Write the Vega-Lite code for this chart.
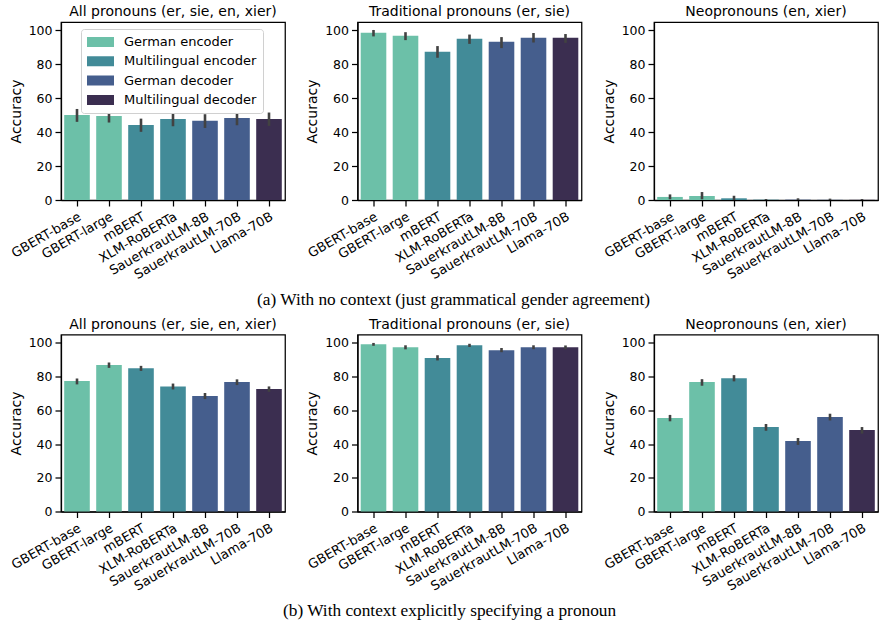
{
  "$schema": "https://vega.github.io/schema/vega-lite/v6.json",
  "padding": {"left": 8, "top": 4, "right": 4, "bottom": 2},
  "background": "white",
  "datasets": {
    "acc": [
      {"ctx": "none", "subset": "all", "model": "GBERT-base", "type": "German encoder", "acc": 50.2, "lo": 46.1, "hi": 53.7},
      {"ctx": "none", "subset": "all", "model": "GBERT-large", "type": "German encoder", "acc": 49.6, "lo": 45.7, "hi": 53.2},
      {"ctx": "none", "subset": "all", "model": "mBERT", "type": "Multilingual encoder", "acc": 44.3, "lo": 40.2, "hi": 48.0},
      {"ctx": "none", "subset": "all", "model": "XLM-RoBERTa", "type": "Multilingual encoder", "acc": 47.8, "lo": 43.5, "hi": 51.6},
      {"ctx": "none", "subset": "all", "model": "SauerkrautLM-8B", "type": "German decoder", "acc": 46.7, "lo": 42.5, "hi": 50.6},
      {"ctx": "none", "subset": "all", "model": "SauerkrautLM-70B", "type": "German decoder", "acc": 48.4, "lo": 44.1, "hi": 52.0},
      {"ctx": "none", "subset": "all", "model": "Llama-70B", "type": "Multilingual decoder", "acc": 47.8, "lo": 43.7, "hi": 51.6},

      {"ctx": "none", "subset": "trad", "model": "GBERT-base", "type": "German encoder", "acc": 98.6, "lo": 96.5, "hi": 100.3},
      {"ctx": "none", "subset": "trad", "model": "GBERT-large", "type": "German encoder", "acc": 96.9, "lo": 94.3, "hi": 99.0},
      {"ctx": "none", "subset": "trad", "model": "mBERT", "type": "Multilingual encoder", "acc": 87.4, "lo": 83.9, "hi": 90.8},
      {"ctx": "none", "subset": "trad", "model": "XLM-RoBERTa", "type": "Multilingual encoder", "acc": 95.1, "lo": 92.1, "hi": 97.6},
      {"ctx": "none", "subset": "trad", "model": "SauerkrautLM-8B", "type": "German decoder", "acc": 93.3, "lo": 89.6, "hi": 96.1},
      {"ctx": "none", "subset": "trad", "model": "SauerkrautLM-70B", "type": "German decoder", "acc": 95.7, "lo": 92.9, "hi": 98.5},
      {"ctx": "none", "subset": "trad", "model": "Llama-70B", "type": "Multilingual decoder", "acc": 95.7, "lo": 92.7, "hi": 97.9},

      {"ctx": "none", "subset": "neo", "model": "GBERT-base", "type": "German encoder", "acc": 1.8, "lo": 0.4, "hi": 3.3},
      {"ctx": "none", "subset": "neo", "model": "GBERT-large", "type": "German encoder", "acc": 2.4, "lo": 0.4, "hi": 4.7},
      {"ctx": "none", "subset": "neo", "model": "mBERT", "type": "Multilingual encoder", "acc": 1.0, "lo": 0.0, "hi": 2.5},
      {"ctx": "none", "subset": "neo", "model": "XLM-RoBERTa", "type": "Multilingual encoder", "acc": 0.2, "lo": 0.0, "hi": 0.6},
      {"ctx": "none", "subset": "neo", "model": "SauerkrautLM-8B", "type": "German decoder", "acc": 0.2, "lo": 0.0, "hi": 1.0},
      {"ctx": "none", "subset": "neo", "model": "SauerkrautLM-70B", "type": "German decoder", "acc": 0.1, "lo": 0.0, "hi": 0.8},
      {"ctx": "none", "subset": "neo", "model": "Llama-70B", "type": "Multilingual decoder", "acc": 0.1, "lo": 0.0, "hi": 0.6},

      {"ctx": "explicit", "subset": "all", "model": "GBERT-base", "type": "German encoder", "acc": 77.4, "lo": 75.4, "hi": 78.9},
      {"ctx": "explicit", "subset": "all", "model": "GBERT-large", "type": "German encoder", "acc": 86.9, "lo": 85.2, "hi": 88.4},
      {"ctx": "explicit", "subset": "all", "model": "mBERT", "type": "Multilingual encoder", "acc": 85.0, "lo": 83.4, "hi": 86.4},
      {"ctx": "explicit", "subset": "all", "model": "XLM-RoBERTa", "type": "Multilingual encoder", "acc": 74.2, "lo": 72.4, "hi": 75.9},
      {"ctx": "explicit", "subset": "all", "model": "SauerkrautLM-8B", "type": "German decoder", "acc": 68.5, "lo": 66.7, "hi": 70.3},
      {"ctx": "explicit", "subset": "all", "model": "SauerkrautLM-70B", "type": "German decoder", "acc": 76.8, "lo": 75.0, "hi": 78.4},
      {"ctx": "explicit", "subset": "all", "model": "Llama-70B", "type": "Multilingual decoder", "acc": 72.6, "lo": 71.0, "hi": 74.2},

      {"ctx": "explicit", "subset": "trad", "model": "GBERT-base", "type": "German encoder", "acc": 99.2, "lo": 98.3, "hi": 100.0},
      {"ctx": "explicit", "subset": "trad", "model": "GBERT-large", "type": "German encoder", "acc": 97.5, "lo": 96.2, "hi": 98.6},
      {"ctx": "explicit", "subset": "trad", "model": "mBERT", "type": "Multilingual encoder", "acc": 91.0, "lo": 89.6, "hi": 92.7},
      {"ctx": "explicit", "subset": "trad", "model": "XLM-RoBERTa", "type": "Multilingual encoder", "acc": 98.6, "lo": 97.6, "hi": 99.5},
      {"ctx": "explicit", "subset": "trad", "model": "SauerkrautLM-8B", "type": "German decoder", "acc": 95.7, "lo": 94.5, "hi": 97.0},
      {"ctx": "explicit", "subset": "trad", "model": "SauerkrautLM-70B", "type": "German decoder", "acc": 97.5, "lo": 96.3, "hi": 98.6},
      {"ctx": "explicit", "subset": "trad", "model": "Llama-70B", "type": "Multilingual decoder", "acc": 97.5, "lo": 96.3, "hi": 98.5},

      {"ctx": "explicit", "subset": "neo", "model": "GBERT-base", "type": "German encoder", "acc": 55.5, "lo": 53.5, "hi": 57.3},
      {"ctx": "explicit", "subset": "neo", "model": "GBERT-large", "type": "German encoder", "acc": 76.8, "lo": 74.6, "hi": 78.5},
      {"ctx": "explicit", "subset": "neo", "model": "mBERT", "type": "Multilingual encoder", "acc": 79.0, "lo": 77.2, "hi": 80.9},
      {"ctx": "explicit", "subset": "neo", "model": "XLM-RoBERTa", "type": "Multilingual encoder", "acc": 50.2, "lo": 47.9, "hi": 51.9},
      {"ctx": "explicit", "subset": "neo", "model": "SauerkrautLM-8B", "type": "German decoder", "acc": 41.8, "lo": 39.5, "hi": 43.6},
      {"ctx": "explicit", "subset": "neo", "model": "SauerkrautLM-70B", "type": "German decoder", "acc": 56.0, "lo": 54.0, "hi": 58.0},
      {"ctx": "explicit", "subset": "neo", "model": "Llama-70B", "type": "Multilingual decoder", "acc": 48.3, "lo": 46.2, "hi": 50.1}
    ]
  },
  "data": {"name": "acc"},
  "resolve": {"scale": {"color": "independent"}, "legend": {"color": "independent"}},
  "spacing": 7.5,
  "vconcat": [
    {
      "title": {"text": "(a) With no context (just grammatical gender agreement)", "orient": "bottom", "font": "Liberation Serif", "fontSize": 17.3, "fontWeight": "normal", "color": "black", "anchor": "middle", "offset": 9, "dx": 10},
      "resolve": {"scale": {"color": "independent"}, "legend": {"color": "independent"}},
      "spacing": 18.5,
      "hconcat": [
        {
          "width": 224, "height": 178,
          "title": "All pronouns (er, sie, en, xier)",
          "transform": [{"filter": "datum.ctx === 'none' && datum.subset === 'all'"}],
          "encoding": {
            "x": {"field": "model", "type": "nominal", "sort": ["GBERT-base", "GBERT-large", "mBERT", "XLM-RoBERTa", "SauerkrautLM-8B", "SauerkrautLM-70B", "Llama-70B"], "scale": {"paddingInner": 0.2, "paddingOuter": 0.1}, "axis": {"title": null, "labelAngle": -30, "labelAlign": "right", "labelBaseline": "top"}}
          },
          "layer": [
            {"mark": {"type": "bar"},
             "encoding": {
               "y": {"field": "acc", "type": "quantitative", "scale": {"domain": [0, 105], "nice": false}, "axis": {"title": "Accuracy", "values": [0, 20, 40, 60, 80, 100]}},
               "color": {"field": "type", "type": "nominal", "scale": {"domain": ["German encoder", "Multilingual encoder", "German decoder", "Multilingual decoder"], "range": ["#6cc0a8", "#428b98", "#455e8d", "#3b2e50"]},
                 "legend": {"title": null, "orient": "none", "legendX": 20, "legendY": 7, "symbolType": "M-1,-0.37H1V0.37H-1Z", "symbolSize": 729, "symbolStrokeWidth": 0, "symbolOpacity": 1, "labelFontSize": 13, "labelColor": "black", "labelOffset": 10, "fillColor": "white", "strokeColor": "#d0d0d0", "cornerRadius": 3, "padding": 6, "clipHeight": 14, "rowPadding": 5.3}}
             }},
            {"mark": {"type": "rule", "color": "#424242", "strokeWidth": 2.6},
             "encoding": {"y": {"field": "lo", "type": "quantitative", "scale": {"domain": [0, 105], "nice": false}, "axis": {"title": "Accuracy", "values": [0, 20, 40, 60, 80, 100]}}, "y2": {"field": "hi"}}}
          ]
        },
        {
          "width": 224, "height": 178,
          "title": "Traditional pronouns (er, sie)",
          "transform": [{"filter": "datum.ctx === 'none' && datum.subset === 'trad'"}],
          "encoding": {
            "x": {"field": "model", "type": "nominal", "sort": ["GBERT-base", "GBERT-large", "mBERT", "XLM-RoBERTa", "SauerkrautLM-8B", "SauerkrautLM-70B", "Llama-70B"], "scale": {"paddingInner": 0.2, "paddingOuter": 0.1}, "axis": {"title": null, "labelAngle": -30, "labelAlign": "right", "labelBaseline": "top"}}
          },
          "layer": [
            {"mark": {"type": "bar"},
             "encoding": {
               "y": {"field": "acc", "type": "quantitative", "scale": {"domain": [0, 105], "nice": false}, "axis": {"title": "Accuracy", "values": [0, 20, 40, 60, 80, 100]}},
               "color": {"field": "type", "type": "nominal", "scale": {"domain": ["German encoder", "Multilingual encoder", "German decoder", "Multilingual decoder"], "range": ["#6cc0a8", "#428b98", "#455e8d", "#3b2e50"]}, "legend": null}
             }},
            {"mark": {"type": "rule", "color": "#424242", "strokeWidth": 2.6},
             "encoding": {"y": {"field": "lo", "type": "quantitative", "scale": {"domain": [0, 105], "nice": false}, "axis": {"title": "Accuracy", "values": [0, 20, 40, 60, 80, 100]}}, "y2": {"field": "hi"}}}
          ]
        },
        {
          "width": 224, "height": 178,
          "title": "Neopronouns (en, xier)",
          "transform": [{"filter": "datum.ctx === 'none' && datum.subset === 'neo'"}],
          "encoding": {
            "x": {"field": "model", "type": "nominal", "sort": ["GBERT-base", "GBERT-large", "mBERT", "XLM-RoBERTa", "SauerkrautLM-8B", "SauerkrautLM-70B", "Llama-70B"], "scale": {"paddingInner": 0.2, "paddingOuter": 0.1}, "axis": {"title": null, "labelAngle": -30, "labelAlign": "right", "labelBaseline": "top"}}
          },
          "layer": [
            {"mark": {"type": "bar"},
             "encoding": {
               "y": {"field": "acc", "type": "quantitative", "scale": {"domain": [0, 105], "nice": false}, "axis": {"title": "Accuracy", "values": [0, 20, 40, 60, 80, 100]}},
               "color": {"field": "type", "type": "nominal", "scale": {"domain": ["German encoder", "Multilingual encoder", "German decoder", "Multilingual decoder"], "range": ["#6cc0a8", "#428b98", "#455e8d", "#3b2e50"]}, "legend": null}
             }},
            {"mark": {"type": "rule", "color": "#424242", "strokeWidth": 2.6},
             "encoding": {"y": {"field": "lo", "type": "quantitative", "scale": {"domain": [0, 105], "nice": false}, "axis": {"title": "Accuracy", "values": [0, 20, 40, 60, 80, 100]}}, "y2": {"field": "hi"}}}
          ]
        }
      ]
    },
    {
      "title": {"text": "(b) With context explicitly specifying a pronoun", "orient": "bottom", "font": "Liberation Serif", "fontSize": 17.3, "fontWeight": "normal", "color": "black", "anchor": "middle", "offset": 8, "dx": 6},
      "resolve": {"scale": {"color": "independent"}, "legend": {"color": "independent"}},
      "spacing": 18.5,
      "hconcat": [
        {
          "width": 224, "height": 177,
          "title": "All pronouns (er, sie, en, xier)",
          "transform": [{"filter": "datum.ctx === 'explicit' && datum.subset === 'all'"}],
          "encoding": {
            "x": {"field": "model", "type": "nominal", "sort": ["GBERT-base", "GBERT-large", "mBERT", "XLM-RoBERTa", "SauerkrautLM-8B", "SauerkrautLM-70B", "Llama-70B"], "scale": {"paddingInner": 0.2, "paddingOuter": 0.1}, "axis": {"title": null, "labelAngle": -30, "labelAlign": "right", "labelBaseline": "top"}}
          },
          "layer": [
            {"mark": {"type": "bar"},
             "encoding": {
               "y": {"field": "acc", "type": "quantitative", "scale": {"domain": [0, 105], "nice": false}, "axis": {"title": "Accuracy", "values": [0, 20, 40, 60, 80, 100]}},
               "color": {"field": "type", "type": "nominal", "scale": {"domain": ["German encoder", "Multilingual encoder", "German decoder", "Multilingual decoder"], "range": ["#6cc0a8", "#428b98", "#455e8d", "#3b2e50"]}, "legend": null}
             }},
            {"mark": {"type": "rule", "color": "#424242", "strokeWidth": 2.6},
             "encoding": {"y": {"field": "lo", "type": "quantitative", "scale": {"domain": [0, 105], "nice": false}, "axis": {"title": "Accuracy", "values": [0, 20, 40, 60, 80, 100]}}, "y2": {"field": "hi"}}}
          ]
        },
        {
          "width": 224, "height": 177,
          "title": "Traditional pronouns (er, sie)",
          "transform": [{"filter": "datum.ctx === 'explicit' && datum.subset === 'trad'"}],
          "encoding": {
            "x": {"field": "model", "type": "nominal", "sort": ["GBERT-base", "GBERT-large", "mBERT", "XLM-RoBERTa", "SauerkrautLM-8B", "SauerkrautLM-70B", "Llama-70B"], "scale": {"paddingInner": 0.2, "paddingOuter": 0.1}, "axis": {"title": null, "labelAngle": -30, "labelAlign": "right", "labelBaseline": "top"}}
          },
          "layer": [
            {"mark": {"type": "bar"},
             "encoding": {
               "y": {"field": "acc", "type": "quantitative", "scale": {"domain": [0, 105], "nice": false}, "axis": {"title": "Accuracy", "values": [0, 20, 40, 60, 80, 100]}},
               "color": {"field": "type", "type": "nominal", "scale": {"domain": ["German encoder", "Multilingual encoder", "German decoder", "Multilingual decoder"], "range": ["#6cc0a8", "#428b98", "#455e8d", "#3b2e50"]}, "legend": null}
             }},
            {"mark": {"type": "rule", "color": "#424242", "strokeWidth": 2.6},
             "encoding": {"y": {"field": "lo", "type": "quantitative", "scale": {"domain": [0, 105], "nice": false}, "axis": {"title": "Accuracy", "values": [0, 20, 40, 60, 80, 100]}}, "y2": {"field": "hi"}}}
          ]
        },
        {
          "width": 224, "height": 177,
          "title": "Neopronouns (en, xier)",
          "transform": [{"filter": "datum.ctx === 'explicit' && datum.subset === 'neo'"}],
          "encoding": {
            "x": {"field": "model", "type": "nominal", "sort": ["GBERT-base", "GBERT-large", "mBERT", "XLM-RoBERTa", "SauerkrautLM-8B", "SauerkrautLM-70B", "Llama-70B"], "scale": {"paddingInner": 0.2, "paddingOuter": 0.1}, "axis": {"title": null, "labelAngle": -30, "labelAlign": "right", "labelBaseline": "top"}}
          },
          "layer": [
            {"mark": {"type": "bar"},
             "encoding": {
               "y": {"field": "acc", "type": "quantitative", "scale": {"domain": [0, 105], "nice": false}, "axis": {"title": "Accuracy", "values": [0, 20, 40, 60, 80, 100]}},
               "color": {"field": "type", "type": "nominal", "scale": {"domain": ["German encoder", "Multilingual encoder", "German decoder", "Multilingual decoder"], "range": ["#6cc0a8", "#428b98", "#455e8d", "#3b2e50"]}, "legend": null}
             }},
            {"mark": {"type": "rule", "color": "#424242", "strokeWidth": 2.6},
             "encoding": {"y": {"field": "lo", "type": "quantitative", "scale": {"domain": [0, 105], "nice": false}, "axis": {"title": "Accuracy", "values": [0, 20, 40, 60, 80, 100]}}, "y2": {"field": "hi"}}}
          ]
        }
      ]
    }
  ],
  "config": {
    "font": "DejaVu Sans",
    "view": {"stroke": "black", "strokeWidth": 1.25},
    "axis": {"domainColor": "black", "domainWidth": 1.25, "tickColor": "black", "tickWidth": 1.25, "tickSize": 6, "labelColor": "black", "labelFontSize": 12.5, "labelPadding": 3, "titleFontSize": 14, "titleFontWeight": "normal", "titleColor": "black", "titlePadding": 5, "grid": false},
    "axisY": {"labelOverlap": false, "labelFlush": false},
    "axisX": {"labelOverlap": false, "labelFontSize": 13, "labelPadding": 4},
    "title": {"fontSize": 14, "fontWeight": "normal", "color": "black", "offset": 3}
  }
}
